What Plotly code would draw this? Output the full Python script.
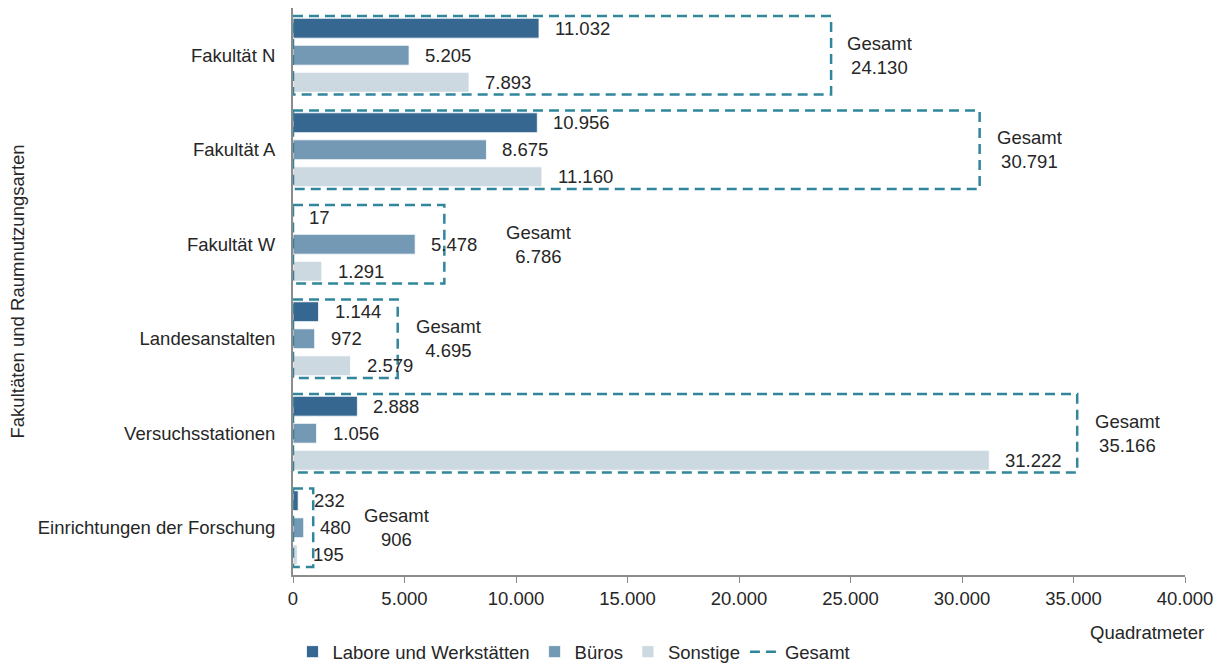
import plotly.graph_objects as go

categories = ["Fakultät N", "Fakultät A", "Fakultät W", "Landesanstalten",
              "Versuchsstationen", "Einrichtungen der Forschung"]
labore = [11032, 10956, 17, 1144, 2888, 232]
bueros = [5205, 8675, 5478, 972, 1056, 480]
sonstige = [7893, 11160, 1291, 2579, 31222, 195]
gesamt = [24130, 30791, 6786, 4695, 35166, 906]
x_ticks = [0, 5000, 10000, 15000, 20000, 25000, 30000, 35000, 40000]

# style / position helpers
gesamt_label_shift = [14, 15, 60, 16, 16, 49]
C_LAB = "#356791"
C_BUR = "#7399b5"
C_SON = "#cdd9e1"
C_GES = "#31869b"
TXT = "#262626"
FONT = "Liberation Sans, Arial, sans-serif"
FS = 18.5

def de(v):
    return f"{v:,}".replace(",", ".")

idx = list(range(len(categories)))
bar_w = 0.21
off = 0.286
half = 0.415

fig = go.Figure()

series = [("Labore und Werkstätten", labore, C_LAB, -off),
          ("Büros", bueros, C_BUR, 0.0),
          ("Sonstige", sonstige, C_SON, off)]
for name, vals, col, o in series:
    ys = [i + o for i in idx]
    fig.add_trace(go.Bar(
        name=name, orientation="h",
        y=ys, x=vals, width=bar_w,
        marker=dict(color=col, line=dict(color="white", width=0.8)),
    ))
    for v, y in zip(vals, ys):
        fig.add_annotation(
            x=v, y=y, xref="x", yref="y", xanchor="left", yanchor="middle",
            xshift=14, showarrow=False, text=de(v),
            font=dict(size=FS, color=TXT, family=FONT),
        )

# Gesamt dashed boxes
gx, gy = [], []
for i, g in zip(idx, gesamt):
    gx += [0, g, g, 0, 0, None]
    gy += [i - half, i - half, i + half, i + half, i - half, None]
fig.add_trace(go.Scatter(
    name="Gesamt", x=gx, y=gy, mode="lines",
    line=dict(color=C_GES, width=2.5, dash="10px,6px"),
    hoverinfo="skip", cliponaxis=False,
))

for i, g, s in zip(idx, gesamt, gesamt_label_shift):
    fig.add_annotation(
        x=g, y=i, xref="x", yref="y", xanchor="left", yanchor="middle",
        xshift=s, showarrow=False, align="center",
        text=f"Gesamt<br>{de(g)}",
        font=dict(size=FS, color=TXT, family=FONT),
    )

fig.add_annotation(
    x=1.0, y=0, xref="paper", yref="paper", xanchor="right", yanchor="middle",
    yshift=-57, xshift=21, showarrow=False, text="Quadratmeter",
    font=dict(size=FS, color=TXT, family=FONT),
)
fig.add_annotation(
    x=0, y=0.5, xref="paper", yref="paper", xanchor="center", yanchor="middle",
    xshift=-276, showarrow=False, textangle=-90,
    text="Fakultäten und Raumnutzungsarten",
    font=dict(size=FS, color=TXT, family=FONT),
)

# page body adds an 8px offset; size the figure to fit the window
fig.update_layout(
    width=1215, height=655,
    margin=dict(l=285, r=38, t=0, b=88, autoexpand=False),
    plot_bgcolor="white", paper_bgcolor="white",
    separators=",.",
    barmode="overlay",
    font=dict(family=FONT, size=FS, color=TXT),
    showlegend=True,
    legend=dict(orientation="h", x=0.315, xanchor="center",
                y=-0.136, yanchor="middle",
                font=dict(size=FS, color=TXT, family=FONT),
                itemwidth=30, tracegroupgap=0),
    xaxis=dict(range=[0, 40000], tickvals=x_ticks, tickformat=",d",
               showgrid=False, zeroline=False, showline=True,
               linecolor="#8c8c8c", linewidth=1.5, automargin=False,
               ticks="outside", ticklen=6, tickcolor="#8c8c8c",
               tickfont=dict(size=FS, color=TXT, family=FONT)),
    yaxis=dict(range=[5.5, -0.5], tickvals=idx, ticktext=categories,
               showgrid=False, zeroline=False, showline=True,
               linecolor="#8c8c8c", linewidth=2, ticks="", ticklen=0,
               automargin=False, ticklabelstandoff=12,
               tickfont=dict(size=FS, color=TXT, family=FONT)),
)

fig.write_html("out.html")
